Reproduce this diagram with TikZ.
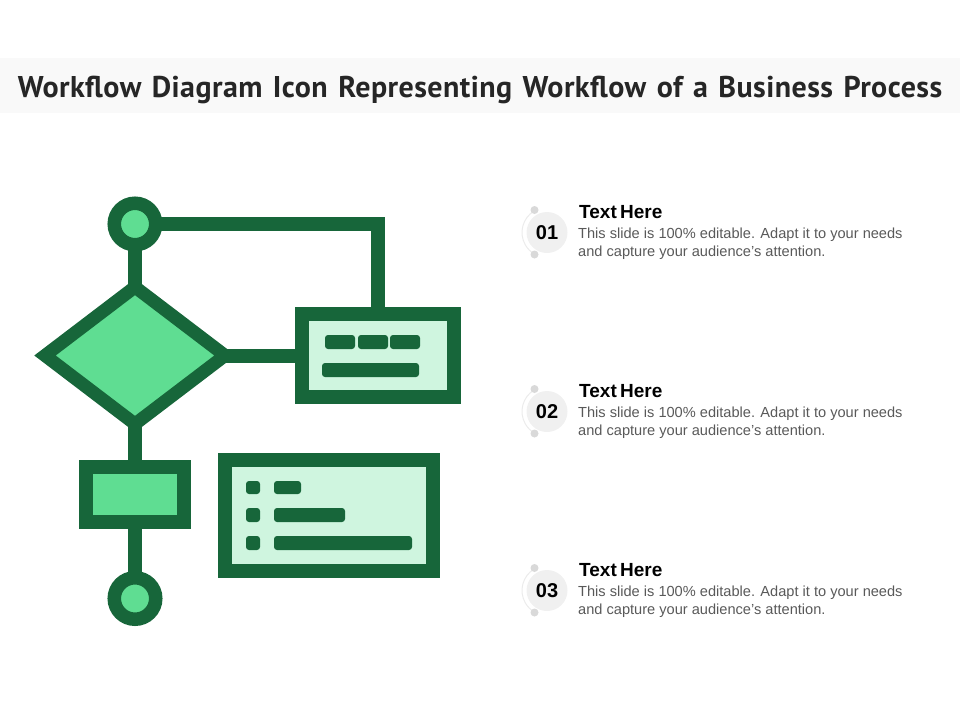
\documentclass[tikz,border=0pt]{standalone}
\usepackage{fontspec}
\setmainfont{Liberation Sans}
\newfontfamily\titlefont[LetterSpace=1.5,WordSpace=1.3]{PT Sans}
\usetikzlibrary{shapes.geometric}
\definecolor{darkgreen}{HTML}{17663A}
\definecolor{midgreen}{HTML}{5FDD92}
\definecolor{palegreen}{HTML}{CFF5DF}
\definecolor{bodygray}{HTML}{595959}
\tikzset{
	flowdot/.style={circle,draw=darkgreen,fill=midgreen,line width=13.5pt,minimum size=41.5pt,inner sep=0pt,outer sep=0pt},
	flowbox/.style={rectangle,draw=darkgreen,line width=14pt,inner sep=0pt,outer sep=0pt},
	flowline/.style={draw=darkgreen,line width=14pt},
	barfill/.style={fill=darkgreen,rounded corners=3pt},
	headtext/.style={anchor=base west,inner sep=0pt,font=\bfseries\fontsize{19}{19}\selectfont,text=black},
	bodytext/.style={anchor=base west,inner sep=0pt,font=\fontsize{14.6}{18}\selectfont,text=bodygray}
}
\begin{document}
\begin{tikzpicture}[x=1pt,y=-1pt]
	\useasboundingbox (0,0) rectangle (960,720);

	% title band
	\fill[black!2.5] (0,58) rectangle (960,113);
	\node[anchor=base,inner sep=0pt,text=black!85] (title) at (480,97.5) {\titlefont\bfseries\fontsize{30}{30}\selectfont Workflow Diagram Icon Representing Workflow of a Business Process};

	% flow chart
	\node[flowdot] (startdot) at (135,224) {};
	\node[diamond,draw=darkgreen,fill=midgreen,line width=13pt,inner sep=0pt,outer sep=0pt,minimum width=180pt,minimum height=137pt,shape aspect=1.31] (decision) at (135,355.5) {};
	\node[flowbox,fill=palegreen,minimum width=152.5pt,minimum height=83pt] (procbox) at (377.75,355.5) {};
	\node[flowbox,fill=midgreen,minimum width=97.5pt,minimum height=55.5pt] (smallbox) at (135,494.5) {};
	\node[flowbox,fill=palegreen,minimum width=208pt,minimum height=111pt] (listbox) at (329,515.5) {};
	\node[flowdot] (enddot) at (135,598.5) {};

	\draw[flowline] (startdot) -- (decision);
	\draw[flowline] (startdot) -| (procbox);
	\draw[flowline] (decision) -- (procbox);
	\draw[flowline] (decision) -- (smallbox);
	\draw[flowline] (smallbox) -- (enddot);

	% bars inside the two boxes
	\foreach \xa/\ya/\xb/\yb in {325/335/355/349,358/335/388/349,390/335/420/349,322/363/419/377,
		246/481/260/494,274/481/301/494,246/508/260/522,274/508/345/522,246/536/260/550,274/536/412/550}
		\fill[barfill] (\xa,\ya) rectangle (\xb,\yb);

	% right column
	\foreach \n/\y in {01/232.5,02/411.5,03/590.5}{
		\draw[black!8,line width=1pt] (534.5,\y-21.7) arc[start angle=120,end angle=240,radius=25pt];
		\fill[black!15] (534.5,\y-22.5) circle (4pt);
		\fill[black!15] (534.5,\y+22) circle (4pt);
		\node[circle,fill=black!6,minimum size=41pt,inner sep=0pt,font=\bfseries\fontsize{20}{20}\selectfont] (num\n) at (547,\y) {\n};
		\node[headtext] (head\n) at (579,\y-14.5) {Text\hspace{-2pt} Here};
		\node[bodytext] (bodya\n) at (578,\y+5.5) {This slide is 100\% editable. Adapt it to your needs};
		\node[bodytext] (bodyb\n) at (578,\y+23.5) {and capture your audience’s attention.};
	}
\end{tikzpicture}
\end{document}
